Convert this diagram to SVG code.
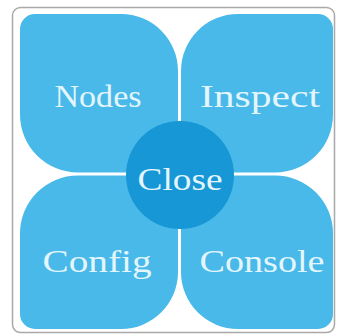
<svg xmlns="http://www.w3.org/2000/svg" width="337" height="336" viewBox="0 0 337 336">
<style>
.petal{fill:#48b9e9;}
.hub{fill:#1797d5;}
.lbl{font-family:"Liberation Serif","DejaVu Serif",serif;font-size:32px;fill:#e4f6fd;text-anchor:middle;}
</style>
<rect id="frame" x="12.5" y="7.5" width="322" height="325" rx="8" fill="#ffffff" stroke="#a9a9a9" stroke-width="1.5"/>
<g id="nodes">
<path class="petal" d="M35 14 H121 A57 57 0 0 1 178 71 V172.5 H78 A58 58 0 0 1 20 114.5 V29 A15 15 0 0 1 35 14 Z"/>
<text class="lbl" x="98" y="107" textLength="87" lengthAdjust="spacingAndGlyphs">Nodes</text>
</g>
<g id="inspect">
<path class="petal" d="M318 14 H238 A57 57 0 0 0 181 71 V172.5 H275 A58 58 0 0 0 333 114.5 V29 A15 15 0 0 0 318 14 Z"/>
<text class="lbl" x="260" y="107" textLength="120" lengthAdjust="spacingAndGlyphs">Inspect</text>
</g>
<g id="config">
<path class="petal" d="M35 329 H121 A57 57 0 0 0 178 272 V175.5 H78 A58 58 0 0 0 20 233.5 V314 A15 15 0 0 0 35 329 Z"/>
<text class="lbl" x="97" y="272" textLength="109" lengthAdjust="spacingAndGlyphs">Config</text>
</g>
<g id="console">
<path class="petal" d="M318 329 H238 A57 57 0 0 1 181 272 V175.5 H275 A58 58 0 0 1 333 233.5 V314 A15 15 0 0 1 318 329 Z"/>
<text class="lbl" x="262" y="272" textLength="125" lengthAdjust="spacingAndGlyphs">Console</text>
</g>
<g id="close">
<circle class="hub" cx="180" cy="175" r="54"/>
<text class="lbl" x="180" y="190" textLength="85" lengthAdjust="spacingAndGlyphs">Close</text>
</g>
<g id="connectors"></g>
</svg>
